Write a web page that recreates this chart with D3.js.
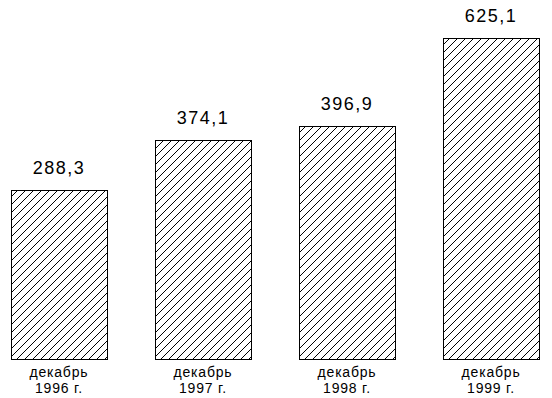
<!DOCTYPE html>
<html>
<head>
<meta charset="utf-8">
<script src="https://cdn.jsdelivr.net/npm/d3@7"></script>
<style>
  body { margin: 0; background: #fff; }
  svg { display: block; }
  text { font-family: "Liberation Sans", Arial, sans-serif; fill: #000; }
</style>
</head>
<body>
<svg id="chart"></svg>
<script>
const categories = ["декабрь 1996 г.", "декабрь 1997 г.", "декабрь 1998 г.", "декабрь 1999 г."];
const values = [288.3, 374.1, 396.9, 625.1];

const width = 552, height = 398;
const baseline = 359;

const svg = d3.select("#chart")
    .attr("width", width)
    .attr("height", height);

// hatch pattern
const defs = svg.append("defs");
const pat = defs.append("pattern")
    .attr("id", "hatch")
    .attr("patternUnits", "userSpaceOnUse")
    .attr("width", 8)
    .attr("height", 8);
pat.append("rect").attr("width", 8).attr("height", 8).attr("fill", "#fff");
pat.append("path")
    .attr("d", "M0,8 L8,0 M-2,2 L2,-2 M6,10 L10,6")
    .attr("stroke", "#000")
    .attr("stroke-width", 1)
    .attr("shape-rendering", "crispEdges");

const x = d3.scaleBand()
    .domain(categories)
    .range([-13, 563])
    .paddingInner(0.333)
    .paddingOuter(0.166);

// the original's value axis is compressed above ~400
const y = d3.scaleLinear()
    .domain([0, 400, 625.1])
    .range([baseline, 124.6, 38]);

const bars = svg.selectAll(".bar")
    .data(values)
    .enter().append("g")
    .attr("class", "bar");

bars.append("rect")
    .attr("x", (d, i) => Math.round(x(categories[i])) + 0.5)
    .attr("y", d => Math.round(y(d)) + 0.5)
    .attr("width", Math.round(x.bandwidth()))
    .attr("height", d => baseline - Math.round(y(d)))
    .attr("fill", "url(#hatch)")
    .attr("stroke", "#000")
    .attr("stroke-width", 1);

bars.append("text")
    .attr("x", (d, i) => x(categories[i]) + x.bandwidth() / 2)
    .attr("y", d => y(d) - 16)
    .attr("text-anchor", "middle")
    .attr("font-size", 18)
    .attr("letter-spacing", 1.5)
    .text(d => d3.format(".1f")(d).replace(".", ","));

bars.each(function (d, i) {
    const parts = categories[i].split(" ");
    const cx = x(categories[i]) + x.bandwidth() / 2;
    const t = d3.select(this).append("text")
        .attr("text-anchor", "middle")
        .attr("font-size", 14)
        .attr("letter-spacing", 0.8);
    t.append("tspan").attr("x", cx).attr("y", 377).text(parts[0]);
    t.append("tspan").attr("x", cx).attr("y", 393).text(parts.slice(1).join(" "));
});
</script>
</body>
</html>
